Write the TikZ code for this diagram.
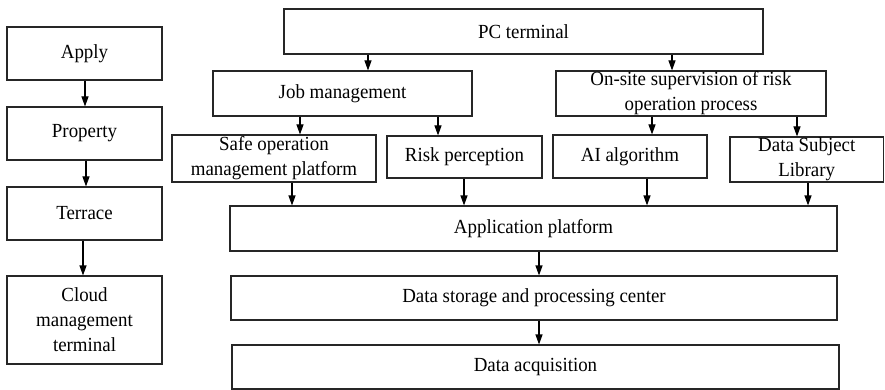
\documentclass[tikz,border=0pt]{standalone}
\usepackage{fontspec}
\setmainfont[FakeStretch=0.945]{Liberation Serif}
\usetikzlibrary{arrows.meta}
\tikzset{
  blk/.style={draw=black!85, line width=1.1pt, fill=white, inner sep=0pt,
              align=center, font=\fontsize{20}{25}\selectfont},
  arr/.style={draw=black, line width=1.1pt, -{Triangle[length=10pt,width=7pt]}}
}
% box from corner (x1,y1) to (x2,y2), y measured downward
\newcommand\boxat[6]{%
  \node[blk, minimum width={#4-#2}, minimum height={#5-#3}]
    (#1) at ({(#2+#4)/2},{(#3+#5)/2}) {#6};}
\begin{document}
\begin{tikzpicture}[x=1pt,y=-1pt]
\useasboundingbox (0,0) rectangle (885,390);
% left column
\boxat{apply}{7}{27}{162}{80}{Apply}
\boxat{prop}{7}{107}{162}{160}{Property}
\boxat{terr}{7}{187}{162}{240}{Terrace}
\boxat{cloud}{7}{276}{162}{364}{Cloud\\management\\terminal}
% main hierarchy
\boxat{pc}{284}{9}{763}{54}{PC terminal}
\boxat{job}{213}{71}{472}{116}{Job management}
\boxat{site}{556}{71}{826}{116}{On-site supervision of risk\\operation process}
\boxat{safe}{172}{135}{376}{182}{Safe operation\\management platform}
\boxat{risk}{387}{136}{542}{178}{Risk perception}
\boxat{ai}{553}{135}{707}{178}{AI algorithm}
\boxat{dsl}{730}{137}{883.5}{182}{Data Subject\\Library}
\boxat{app}{230}{206}{837}{251}{Application platform}
\boxat{store}{231}{276}{837}{320}{Data storage and processing center}
\boxat{acq}{232}{345}{839}{389}{Data acquisition}
% left column arrows
\draw[arr] (85,0 |- apply.south) -- (85,0 |- prop.north);
\draw[arr] (86,0 |- prop.south) -- (86,0 |- terr.north);
\draw[arr] (83,0 |- terr.south) -- (83,0 |- cloud.north);
% hierarchy arrows
\draw[arr] (368,0 |- pc.south) -- (368,0 |- job.north);
\draw[arr] (672,0 |- pc.south) -- (672,0 |- site.north);
\draw[arr] (300,0 |- job.south) -- (300,0 |- safe.north);
\draw[arr] (438,0 |- job.south) -- (438,0 |- risk.north);
\draw[arr] (652,0 |- site.south) -- (652,0 |- ai.north);
\draw[arr] (797,0 |- site.south) -- (797,0 |- dsl.north);
\draw[arr] (292,0 |- safe.south) -- (292,0 |- app.north);
\draw[arr] (464,0 |- risk.south) -- (464,0 |- app.north);
\draw[arr] (647,0 |- ai.south) -- (647,0 |- app.north);
\draw[arr] (808,0 |- dsl.south) -- (808,0 |- app.north);
\draw[arr] (539,0 |- app.south) -- (539,0 |- store.north);
\draw[arr] (539,0 |- store.south) -- (539,0 |- acq.north);
\end{tikzpicture}
\end{document}
